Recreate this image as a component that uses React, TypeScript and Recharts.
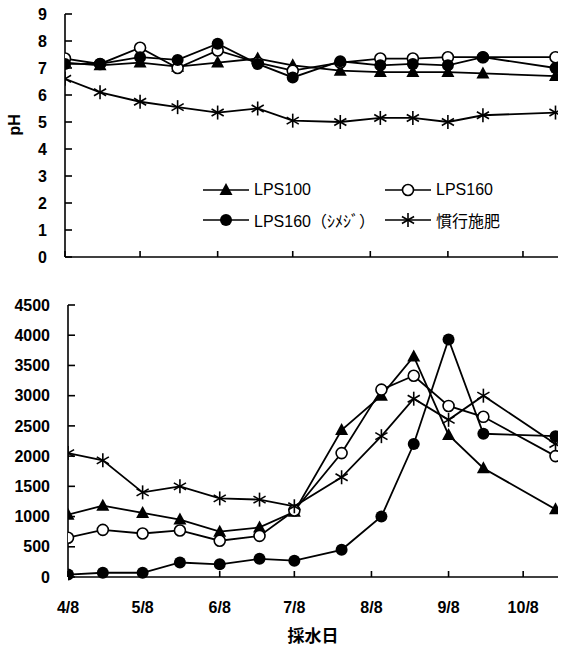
import React from 'react';
import { LineChart, Line, XAxis, YAxis, Legend } from 'recharts';

// sampling dates and their day offsets from 4/8
const sampleDates = ['4/8', '4/22', '5/8', '5/23', '6/8', '6/24', '7/8', '7/27', '8/12', '8/25', '9/8', '9/22', '10/21'];
const sampleDays = [0, 14, 30, 45, 61, 77, 91, 110, 126, 139, 153, 167, 196];
const monthTickDays = [0, 30, 61, 91, 122, 153, 183];
const monthTickLabels = ['4/8', '5/8', '6/8', '7/8', '8/8', '9/8', '10/8'];

const phTicks = [0, 1, 2, 3, 4, 5, 6, 7, 8, 9];
const ecTicks = [0, 500, 1000, 1500, 2000, 2500, 3000, 3500, 4000, 4500];

const seriesNames = ['LPS100', 'LPS160', 'LPS160（ｼﾒｼﾞ）', '慣行施肥'];

// pH
const phLPS100 = [7.2, 7.1, 7.2, 7.05, 7.2, 7.35, 7.1, 6.9, 6.85, 6.85, 6.85, 6.8, 6.7];
const phLPS160 = [7.35, 7.15, 7.75, 7.0, 7.65, 7.2, 6.9, 7.2, 7.35, 7.35, 7.4, 7.4, 7.4];
const phShimeji = [7.15, 7.15, 7.4, 7.3, 7.9, 7.15, 6.65, 7.25, 7.1, 7.15, 7.1, 7.4, 7.0];
const phConv = [6.6, 6.1, 5.75, 5.55, 5.35, 5.5, 5.05, 5.0, 5.15, 5.15, 5.0, 5.25, 5.35];

// lower panel
const ecLPS100 = [1030, 1180, 1060, 950, 750, 820, 1080, 2430, 3000, 3650, 2350, 1800, 1120];
const ecLPS160 = [650, 780, 720, 770, 600, 680, 1100, 2050, 3100, 3330, 2830, 2650, 2000];
const ecShimeji = [40, 70, 70, 240, 210, 300, 270, 450, 1000, 2200, 3930, 2370, 2330];
const ecConv = [2050, 1930, 1400, 1500, 1300, 1280, 1170, 1650, 2330, 2950, 2600, 3000, 2200];

const keys = ['s1', 's2', 's3', 's4'];

const buildRows = (a: number[], b: number[], c: number[], d: number[]) =>
  sampleDays.map((day, i) => ({ day, date: sampleDates[i], s1: a[i], s2: b[i], s3: c[i], s4: d[i] }));

const phRows = buildRows(phLPS100, phLPS160, phShimeji, phConv);
const ecRows = buildRows(ecLPS100, ecLPS160, ecShimeji, ecConv);

type Kind = 'tri' | 'open' | 'filled' | 'star';
const kinds: Kind[] = ['tri', 'open', 'filled', 'star'];

const Marker = ({ kind, cx, cy }: { kind: Kind; cx: number; cy: number }) => {
  if (kind === 'tri') {
    return <polygon points={`${cx},${cy - 7} ${cx - 6.5},${cy + 5} ${cx + 6.5},${cy + 5}`} fill="#000" />;
  }
  if (kind === 'open') {
    return <circle cx={cx} cy={cy} r={5.5} fill="#fff" stroke="#000" strokeWidth={1.6} />;
  }
  if (kind === 'filled') {
    return <circle cx={cx} cy={cy} r={6} fill="#000" />;
  }
  const r = 7;
  const arms = [90, 30, 150].map((deg) => {
    const a = (deg * Math.PI) / 180;
    const dx = r * Math.cos(a);
    const dy = r * Math.sin(a);
    return <line key={deg} x1={cx - dx} y1={cy - dy} x2={cx + dx} y2={cy + dy} stroke="#000" strokeWidth={1.6} />;
  });
  return <g>{arms}</g>;
};

const dotFor = (kind: Kind) => (props: any) => {
  const { cx, cy, index } = props;
  if (cx == null || cy == null) return <g key={`n${index}`} />;
  return (
    <g key={`${kind}-${index}`}>
      <Marker kind={kind} cx={cx} cy={cy} />
    </g>
  );
};

const tickFont = { fontFamily: "'Liberation Sans', Arial, sans-serif", fontSize: 16, fontWeight: 700, fill: '#000' };
const axisStroke = { stroke: '#000', strokeWidth: 1.6 };

const LegendContent = (props: any) => {
  const payload = props.payload || [];
  return (
    <div style={{ display: 'flex', flexWrap: 'wrap', width: 370 }}>
      {payload.map((p: any, i: number) => {
        const idx = keys.indexOf(p.dataKey);
        return (
          <div key={i} style={{ width: 182, height: 30, display: 'flex', alignItems: 'center' }}>
            <svg width={46} height={18} style={{ display: 'block' }}>
              <line x1={0} y1={9} x2={46} y2={9} stroke="#000" strokeWidth={1.6} />
              <Marker kind={kinds[idx]} cx={23} cy={9} />
            </svg>
            <span
              style={{
                marginLeft: 5,
                fontFamily: "'Liberation Sans', 'Noto Sans CJK JP', sans-serif",
                fontSize: 16,
                color: '#000',
                whiteSpace: 'nowrap',
              }}
            >
              {p.value}
            </span>
          </div>
        );
      })}
    </div>
  );
};

const renderLines = () =>
  keys.map((k, i) => (
    <Line
      key={k}
      type="linear"
      dataKey={k}
      name={seriesNames[i]}
      stroke="#000"
      strokeWidth={1.8}
      dot={dotFor(kinds[i])}
      activeDot={false}
      isAnimationActive={false}
    />
  ));

export default function App() {
  return (
    <div style={{ position: 'absolute', left: 0, top: 0, width: 568, height: 648, background: '#fff' }}>
      <div style={{ position: 'absolute', left: 0, top: 0 }}>
        <LineChart width={568} height={290} data={phRows} margin={{ top: 14, right: 10, bottom: 13, left: 0 }}>
          <XAxis
            dataKey="day"
            type="number"
            domain={[0, 197]}
            ticks={monthTickDays}
            allowDataOverflow
            height={20}
            tickSize={-6}
            tickFormatter={() => ''}
            axisLine={axisStroke}
            tickLine={axisStroke}
          />
          <YAxis
            type="number"
            domain={[0, 9]}
            ticks={phTicks}
            width={65}
            tickSize={-7}
            tickMargin={25}
            tick={tickFont}
            axisLine={axisStroke}
            tickLine={axisStroke}
            label={{
              value: 'pH',
              angle: -90,
              position: 'insideLeft',
              offset: 14,
              style: { fontFamily: "'Liberation Sans', Arial, sans-serif", fontSize: 16, fontWeight: 700, fill: '#000' },
            }}
          />
          <Legend
            layout="horizontal"
            verticalAlign="middle"
            align="center"
            content={LegendContent}
            wrapperStyle={{ left: 203, top: 175, width: 370 }}
          />
          {renderLines()}
        </LineChart>
      </div>
      <div style={{ position: 'absolute', left: 0, top: 290 }}>
        <LineChart width={568} height={358} data={ecRows} margin={{ top: 15, right: 10, bottom: 0, left: 0 }}>
          <XAxis
            dataKey="day"
            type="number"
            domain={[0, 197]}
            ticks={monthTickDays}
            allowDataOverflow
            height={71}
            tickSize={-6}
            tickMargin={31}
            tickFormatter={(v: number) => monthTickLabels[monthTickDays.indexOf(v)] ?? ''}
            tick={tickFont}
            axisLine={axisStroke}
            tickLine={axisStroke}
            label={{
              value: '採水日',
              position: 'insideBottom',
              offset: 6,
              style: { fontFamily: "'Noto Sans CJK JP', sans-serif", fontSize: 17, fontWeight: 700, fill: '#000' },
            }}
          />
          <YAxis
            type="number"
            domain={[0, 4500]}
            ticks={ecTicks}
            width={68}
            tickSize={-7}
            tickMargin={25}
            tick={tickFont}
            axisLine={axisStroke}
            tickLine={axisStroke}
          />
          {renderLines()}
        </LineChart>
      </div>
    </div>
  );
}
